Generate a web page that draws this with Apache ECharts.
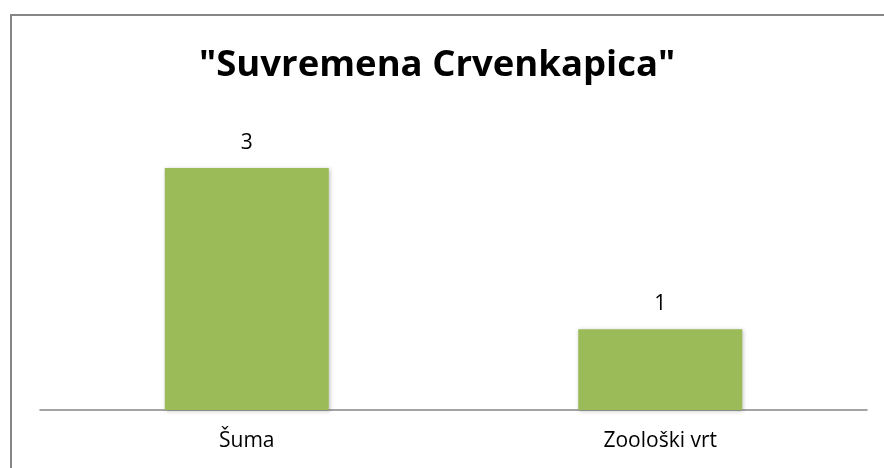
<!DOCTYPE html>
<html><head><meta charset="utf-8">
<script src="https://cdn.jsdelivr.net/npm/echarts@6/dist/echarts.min.js"></script>
<style>html,body{margin:0;padding:0;background:#fff}#c{width:884px;height:468px}</style>
</head><body><div id="c"></div>
<script>
const titleText = '"Suvremena Crvenkapica"';
const categories = ['Šuma', 'Zoološki vrt'];
const values = [3, 1];
const yMax = 3.5;

const chart = echarts.init(document.getElementById('c'), null, {renderer: 'canvas'});
chart.setOption({
  animation: false,
  backgroundColor: '#fff',
  graphic: [{
    type: 'rect', shape: {x: 11, y: 15, width: 900, height: 500},
    style: {fill: 'none', stroke: '#868686', lineWidth: 2}, silent: true
  }],
  title: {
    text: titleText, left: 194, top: 42,
    textStyle: {fontFamily: 'Open Sans', fontWeight: 'bold', fontSize: 36.5, color: '#000'}
  },
  grid: {left: 40, right: 17, top: 127.7, bottom: 58, containLabel: false},
  xAxis: {
    type: 'category', data: categories,
    axisLine: {lineStyle: {color: '#868686', width: 1.5}},
    axisTick: {show: false},
    axisLabel: {fontFamily: 'Open Sans', fontSize: 21, color: '#000', margin: 21}
  },
  yAxis: {
    type: 'value', min: 0, max: yMax, show: false, splitLine: {show: false}
  },
  series: [{
    type: 'bar', data: values, barWidth: 164,
    itemStyle: {color: '#9BBB59', shadowBlur: 4, shadowColor: 'rgba(0,0,0,0.25)', shadowOffsetX: 1, shadowOffsetY: 1},
    label: {show: true, position: 'top', distance: 15, fontFamily: 'Open Sans', fontSize: 21, color: '#000'}
  }]
});
</script></body></html>
